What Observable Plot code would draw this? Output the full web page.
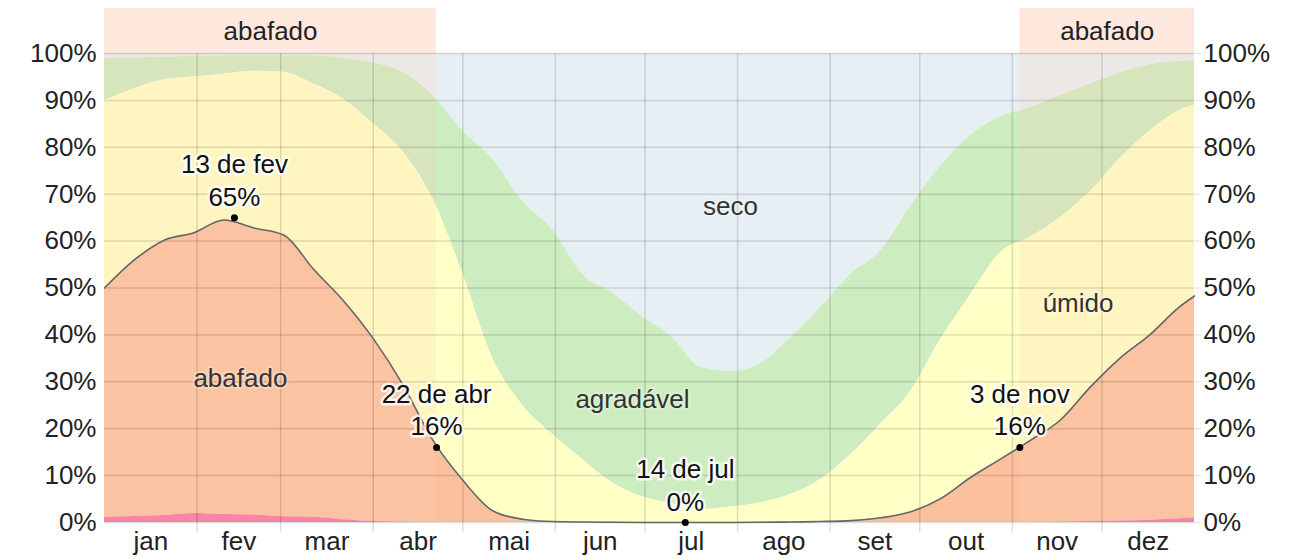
<!DOCTYPE html>
<html>
<head>
<meta charset="utf-8">
<script src="https://cdn.jsdelivr.net/npm/d3@7"></script>
<script src="https://cdn.jsdelivr.net/npm/@observablehq/plot@0.6"></script>
<style>
  html, body { margin: 0; padding: 0; background: #fff; }
  #chart svg { display: block; }
</style>
</head>
<body>
<div id="chart"></div>
<script>
// Day of year (0 = 1 Jan, 365 = 31 Dec end)
const days = [0,10,20,30,40,50,60,70,80,90,100,110,120,130,140,150,160,170,180,190,200,210,220,230,240,250,260,270,280,290,300,310,320,330,340,350,360,365];
// Cumulative upper edges of each comfort band (%)
const insuportavelTop = [1.1,1.3,1.5,1.9,1.7,1.6,1.2,1.1,0.6,0.2,0.1,0.05,0,0,0,0,0,0,0,0,0,0,0,0,0,0,0,0,0,0,0,0,0.1,0.2,0.3,0.5,0.8,1.0];
const abafadoTop     = [50,56,60.2,61.8,64.5,62.8,61.3,54,47.3,39.2,29.3,17.5,9,2.5,0.7,0.2,0.1,0.05,0,0,0,0,0.05,0.1,0.2,0.4,1,2.3,5.1,9.6,13.5,17.5,21.8,28.8,35,40,46,48.3];
const umidoTop       = [90,92.5,94.4,95,95.6,96.2,96,93.5,90.3,85,79,69,53,35,25,18.8,13.5,8.5,5.5,4,2.8,3.3,4.2,6,9.2,14.5,21,28,39,48.5,57.5,60.8,65,70.5,77.5,83.5,87.8,89];
const agradavelTop   = [98.9,99.1,99.2,99.4,99.5,99.5,99.5,99.5,99,98,96,91,83.5,77.5,68.5,62.5,53,49,44,39.5,33,32.2,34,39.5,46,53,58,67.5,76,82.5,86.5,88.5,91,93.5,95.8,97.6,98.3,98.5];

// Month axis
const monthStarts = [0,31,59,90,120,151,181,212,243,273,304,334,365];
const monthNames = ["jan","fev","mar","abr","mai","jun","jul","ago","set","out","nov","dez"];
const yTicks = [0,10,20,30,40,50,60,70,80,90,100];

// Highlighted "abafado" periods (day ranges)
const shadeStart = [0, 306.5];
const shadeEnd   = [111.2, 365];

// Annotations
const annDays   = [43.5, 111.2, 194.5, 306.5];
const annValues = [65, 16, 0, 16];
const annDates  = ["13 de fev", "22 de abr", "14 de jul", "3 de nov"];

// Band labels
const bandLabels = ["abafado", "úmido", "agradável", "seco"];
const bandLabelX = [45.5, 326, 176.8, 209.6];
const bandLabelY = [30.7, 46.7, 26.2, 67.4];

const rows = days.map((d, i) => ({
  d, p: insuportavelTop[i], o: abafadoTop[i], u: umidoTop[i], g: agradavelTop[i]
}));
const months = monthNames.map((name, i) => ({name, mid: (monthStarts[i] + monthStarts[i + 1]) / 2}));
const shades = shadeStart.map((s, i) => ({s, e: shadeEnd[i]}));
const anns = annDays.map((d, i) => ({d, v: annValues[i], label: annDates[i] + "\n" + annValues[i] + "%"}));
const bands = bandLabels.map((t, i) => ({t, x: bandLabelX[i], y: bandLabelY[i]}));

const curve = "monotone-x";
const FONT = 26;
const gridColor = "#000";

const chart = Plot.plot({
  width: 1294,
  height: 559,
  marginLeft: 104,
  marginRight: 100,
  marginTop: 53,
  marginBottom: 37,
  style: {fontFamily: "'Liberation Sans', Arial, sans-serif", fontSize: FONT + "px", color: "#222", background: "#fff"},
  x: {domain: [0, 365], axis: null},
  y: {domain: [0, 100], axis: null},
  marks: [
    // bands
    Plot.areaY(rows, {x: "d", y1: "g", y2: 100, fill: "#e6eff3", curve}),
    Plot.areaY(rows, {x: "d", y1: "u", y2: "g", fill: "#cdecc0", curve}),
    Plot.areaY(rows, {x: "d", y1: "o", y2: "u", fill: "#ffffc6", curve}),
    Plot.areaY(rows, {x: "d", y1: "p", y2: "o", fill: "#fbc19e", curve}),
    Plot.areaY(rows, {x: "d", y1: 0, y2: "p", fill: "#f773a6", curve}),
    // highlighted abafado periods
    Plot.rectY(shades, {x1: "s", x2: "e", y1: 0, y2: 100, fill: "rgb(255,204,173)", fillOpacity: 0.2}),
    Plot.rectY(shades, {x1: "s", x2: "e", y1: 100, y2: 109.6, fill: "#ffe9de"}),
    Plot.text(shades, {x: d => (d.s + d.e) / 2, y: 104.6, text: () => "abafado", fill: "#222", fontSize: FONT}),
    // grid
    Plot.ruleY(yTicks, {x1: 0, x2: 365, stroke: gridColor, strokeOpacity: 0.13, strokeWidth: 1.5}),
    Plot.ruleX(monthStarts.slice(1, -1), {y1: -2.2, y2: 100, stroke: gridColor, strokeOpacity: 0.13, strokeWidth: 1.5}),
    // axes
    Plot.axisY({anchor: "left", ticks: yTicks, tickFormat: d => d + "%", tickSize: 0, tickPadding: 8, fontSize: FONT}),
    Plot.axisY({anchor: "right", ticks: yTicks, tickFormat: d => d + "%", tickSize: 6, tickPadding: 3, stroke: "#000", strokeOpacity: 0.13, fontSize: FONT}),
    Plot.axisX(months.map(m => m.mid), {anchor: "bottom", tickSize: 0, tickPadding: 9, tickFormat: d => months.find(m => m.mid === d).name, fontSize: FONT}),
    // abafado boundary line
    Plot.lineY(rows, {x: "d", y: "o", stroke: "#666", strokeWidth: 1.6, curve}),
    // band labels
    Plot.text(bands, {x: "x", y: "y", text: "t", fill: "#333", fontSize: FONT, stroke: "white", strokeOpacity: 0.25, strokeWidth: 4}),
    // annotations
    Plot.dot(anns, {x: "d", y: "v", r: 3.5, fill: "#000"}),
    Plot.text(anns, {x: "d", y: "v", text: "label", lineAnchor: "bottom", lineHeight: 1.25, dy: -12, fill: "#111", fontSize: FONT, stroke: "white", strokeOpacity: 0.8, strokeWidth: 5})
  ]
});
document.getElementById("chart").appendChild(chart);
</script>
</body>
</html>
